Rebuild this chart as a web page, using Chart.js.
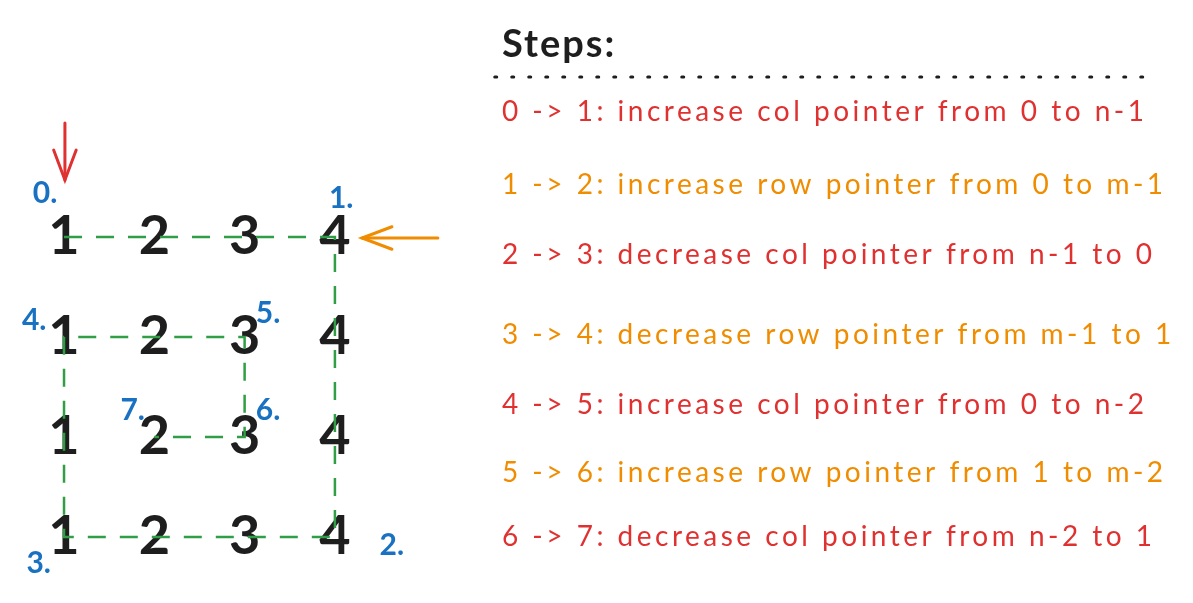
<!DOCTYPE html>
<html>
<head>
<meta charset="utf-8">
<script src="https://cdn.jsdelivr.net/npm/chart.js@4.4.1/dist/chart.umd.min.js"></script>
<style>
  html, body { margin: 0; padding: 0; background: #ffffff; }
  #wrap { width: 1193px; height: 603px; position: relative; }
</style>
</head>
<body>
<div id="wrap"><canvas id="spiral"></canvas></div>
<script>
// matrix values, one array per row (grid units: col = x, row = y)
const matrixRows = [
    [1, 2, 3, 4],
    [1, 2, 3, 4],
    [1, 2, 3, 4],
    [1, 2, 3, 4]
];

// spiral traversal order through the cells
const spiralCols = [0, 3, 3, 0, 0, 2, 2, 1];
const spiralRows = [0, 0, 3, 3, 1, 1, 2, 2];

// blue step markers placed next to the corners
const markerLabels = ['0.', '1.', '2.', '3.', '4.', '5.', '6.', '7.'];
const markerCols = [-0.21, 3.07, 3.63, -0.28, -0.33, 2.26, 2.26, 0.76];
const markerRows = [-0.44, -0.39, 3.08, 3.26, 0.83, 0.76, 1.73, 1.73];

// pointer arrows: [tail, tip]
const colArrowCols = [0.01, 0.01];
const colArrowRows = [-1.14, -0.57];
const rowArrowCols = [4.14, 3.30];
const rowArrowRows = [0.01, 0.01];

// step list on the right
const stepTitle = 'Steps:';
const stepTexts = [
    '0 -> 1: increase col pointer from 0 to n-1',
    '1 -> 2: increase row pointer from 0 to m-1',
    '2 -> 3: decrease col pointer from n-1 to 0',
    '3 -> 4: decrease row pointer from m-1 to 1',
    '4 -> 5: increase col pointer from 0 to n-2',
    '5 -> 6: increase row pointer from 1 to m-2',
    '6 -> 7: decrease col pointer from n-2 to 1'
];
const stepRows = [-1.25, -0.52, 0.18, 0.98, 1.68, 2.36, 3.0];
const stepCol = 4.85;

const RED = '#e03131';
const ORANGE = '#f08c00';
const BLUE = '#1971c2';
const GREEN = '#2f9e44';
const INK = '#1e1e1e';

const cellPoints = [];
const cellLabels = [];
matrixRows.forEach((row, r) => {
    row.forEach((v, c) => {
        cellPoints.push({ x: c, y: r });
        cellLabels.push(String(v));
    });
});

const textPlugin = {
    id: 'textMarks',
    beforeDatasetsDraw(chart) {
        const ctx = chart.ctx;
        chart.data.datasets.forEach((ds, i) => {
            if (!ds.labels) return;
            const meta = chart.getDatasetMeta(i);
            ctx.save();
            ctx.font = ds.labelFont;
            ctx.textBaseline = 'middle';
            ctx.textAlign = ds.labelAlign || 'center';
            ctx.letterSpacing = ds.labelSpacing || '0px';
            meta.data.forEach((el, j) => {
                const col = Array.isArray(ds.labelColor) ? ds.labelColor[j] : ds.labelColor;
                ctx.fillStyle = col;
                ctx.fillText(ds.labels[j], el.x, el.y);
            });
            ctx.restore();
        });
    },
    afterDatasetsDraw(chart) {
        const ctx = chart.ctx;
        chart.data.datasets.forEach((ds, i) => {
            if (!ds.arrow) return;
            const pts = chart.getDatasetMeta(i).data;
            const tail = pts[0], tip = pts[pts.length - 1];
            const ang = Math.atan2(tip.y - tail.y, tip.x - tail.x);
            const len = 32, spread = 0.36;
            ctx.save();
            ctx.strokeStyle = ds.borderColor;
            ctx.lineWidth = ds.borderWidth;
            ctx.lineCap = 'round';
            ctx.beginPath();
            ctx.moveTo(tip.x - len * Math.cos(ang - spread), tip.y - len * Math.sin(ang - spread));
            ctx.lineTo(tip.x, tip.y);
            ctx.lineTo(tip.x - len * Math.cos(ang + spread), tip.y - len * Math.sin(ang + spread));
            ctx.stroke();
            ctx.restore();
        });
    }
};

const ctx = document.getElementById('spiral').getContext('2d');
new Chart(ctx, {
    type: 'scatter',
    data: {
        datasets: [
            {
                label: 'cells',
                data: cellPoints,
                pointRadius: 0,
                labels: cellLabels,
                labelFont: 'bold 54px Lato',
                labelColor: INK
            },
            {
                label: 'markers',
                data: markerCols.map((c, k) => ({ x: c, y: markerRows[k] })),
                pointRadius: 0,
                labels: markerLabels,
                labelFont: 'bold 30px Lato',
                labelColor: BLUE
            },
            {
                label: 'title',
                data: [{ x: stepCol, y: -1.92 }],
                pointRadius: 0,
                labels: [stepTitle],
                labelFont: 'bold 38px Lato',
                labelAlign: 'left',
                labelSpacing: '2px',
                labelColor: INK
            },
            {
                label: 'steps',
                data: stepRows.map(r => ({ x: stepCol, y: r })),
                pointRadius: 0,
                labels: stepTexts,
                labelFont: '28px Lato',
                labelAlign: 'left',
                labelSpacing: '3.5px',
                labelColor: stepTexts.map((t, k) => k % 2 === 0 ? RED : ORANGE)
            },
            {
                label: 'divider',
                type: 'line',
                data: [{ x: 4.77, y: -1.6 }, { x: 11.95, y: -1.6 }],
                borderColor: INK,
                borderWidth: 3,
                borderDash: [2, 15],
                borderCapStyle: 'round',
                pointRadius: 0
            },
            {
                label: 'spiral',
                type: 'line',
                data: spiralCols.map((c, k) => ({ x: c, y: spiralRows[k] })),
                borderColor: GREEN,
                borderWidth: 2.5,
                borderDash: [18, 14],
                pointRadius: 0,
                tension: 0
            },
            {
                label: 'col pointer',
                type: 'line',
                data: colArrowCols.map((c, k) => ({ x: c, y: colArrowRows[k] })),
                borderColor: RED,
                borderWidth: 3,
                borderCapStyle: 'round',
                pointRadius: 0,
                arrow: true
            },
            {
                label: 'row pointer',
                type: 'line',
                data: rowArrowCols.map((c, k) => ({ x: c, y: rowArrowRows[k] })),
                borderColor: ORANGE,
                borderWidth: 3,
                borderCapStyle: 'round',
                pointRadius: 0,
                arrow: true
            }
        ]
    },
    options: {
        responsive: true,
        maintainAspectRatio: false,
        animation: false,
        layout: { padding: 0 },
        scales: {
            x: { type: 'linear', display: false, min: -0.709, max: 12.503 },
            y: { type: 'linear', display: false, reverse: true, min: -2.37, max: 3.66 }
        },
        plugins: {
            legend: { display: false },
            tooltip: { enabled: false }
        }
    },
    plugins: [textPlugin]
});
</script>
</body>
</html>
